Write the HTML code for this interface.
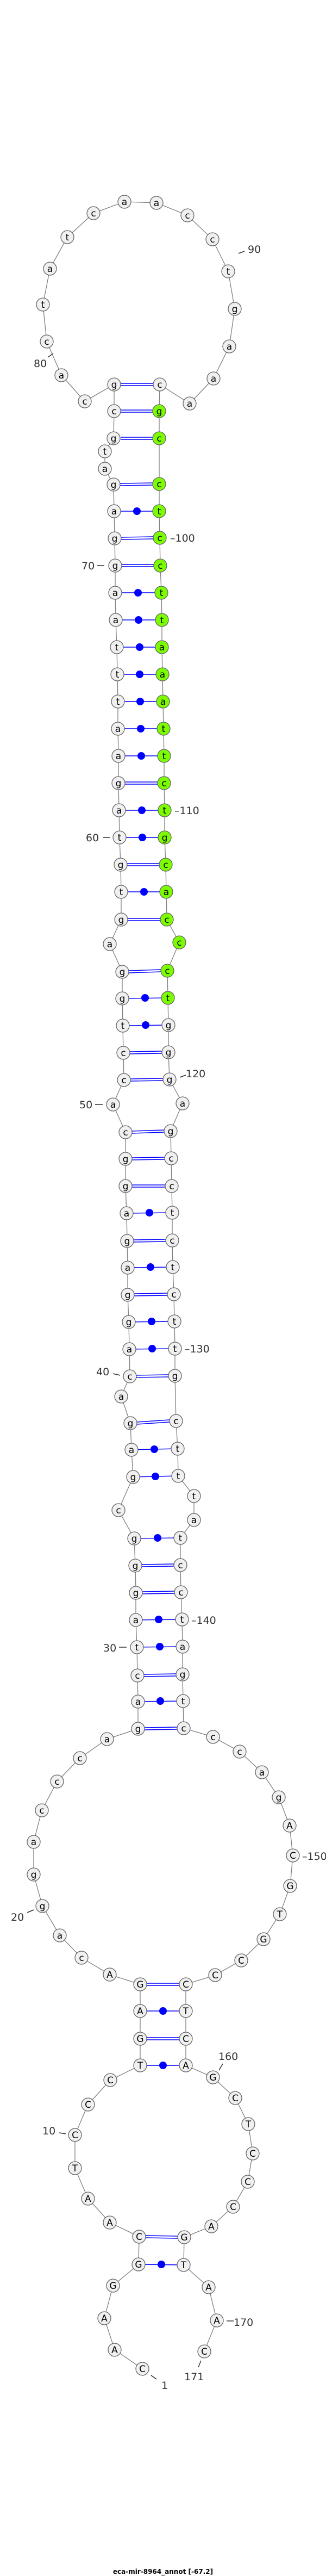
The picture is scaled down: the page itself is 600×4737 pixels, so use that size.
<!DOCTYPE html>
<html><head><meta charset="utf-8"><style>
html,body{margin:0;padding:0;background:#fff;}
svg{display:block;}
.n circle{fill:#f0f0f0;stroke:#666;stroke-width:1.3;}
.n.g circle{fill:#7cfc00;}
.n text{font-family:"DejaVu Sans","Liberation Sans",sans-serif;font-size:17px;text-anchor:middle;fill:#000;}
.lb{font-family:"DejaVu Sans","Liberation Sans",sans-serif;font-size:19px;fill:#333;}
.tk{stroke:#333;stroke-width:1.5;}
.b{stroke:#0000ff;stroke-width:1.4;}
.d{fill:#0000ff;}
</style></head><body>
<svg width="600" height="4737" viewBox="0 0 600 4737" xmlns="http://www.w3.org/2000/svg">
<polyline fill="none" stroke="#808080" stroke-width="1.3" points="262,4356 211,4321 192,4263 208,4203 255,4164 256,4113 202,4087 162,4043 138,3987 138,3926 162,3870 203,3825 258,3798 258,3749 258,3698 258,3649 202,3631 150,3600 110,3559 78,3505 62,3447 62,3387 77,3329 105,3276 147,3233 197,3198 254,3179 254,3129 253,3081 252,3029 250,2979 250,2929 249,2879 247,2829 218,2777 245,2716 242,2666 240,2617 223,2568 239,2531 238,2481 237,2431 235,2381 235,2331 234,2282 233,2231 231,2181 231,2131 231,2082 208,2031 228,1986 227,1936 226,1886 225,1836 225,1787 202,1736 223,1691 223,1640 222,1590 220,1540 219,1490 218,1440 218,1390 217,1340 217,1290 216,1240 215,1190 213,1140 212,1090 212,1040 211,990 210,940 209,891 193,862 193,830 209,806 210,756 210,707 156,738 113,690 86,628 79,560 92,494 124,436 172,392 229,371 288,373 345,396 391,440 420,499 432,568 422,637 393,696 349,742 294,707 293,756 293,806 293,890 293,940 294,989 295,1040 297,1090 298,1140 298,1190 299,1240 300,1290 301,1340 302,1390 302,1440 303,1490 303,1540 305,1590 306,1640 307,1691 330,1733 308,1785 309,1835 310,1885 310,1935 312,1985 336,2029 314,2080 315,2130 316,2181 317,2230 317,2281 318,2330 320,2380 321,2430 322,2480 322,2530 324,2613 327,2664 328,2714 357,2751 357,2795 332,2828 332,2878 333,2928 335,2978 336,3028 336,3079 337,3128 338,3178 392,3194 441,3221 482,3259 513,3305 533,3357 539,3412 534,3468 515,3520 485,3566 444,3605 396,3632 342,3649 342,3698 342,3749 342,3798 392,3820 433,3858 457,3906 465,3960 456,4012 429,4058 389,4094 339,4114 338,4165 384,4206 399,4267 376,4324"/>
<!-- double bonds -->
<g class="b">
<line x1="268" y1="4111" x2="327" y2="4112"/><line x1="268" y1="4115" x2="327" y2="4116"/>
<line x1="270" y1="3747" x2="330" y2="3747"/><line x1="270" y1="3751" x2="330" y2="3751"/>
<line x1="270" y1="3647" x2="330" y2="3647"/><line x1="270" y1="3651" x2="330" y2="3651"/>
<line x1="266" y1="3177" x2="326" y2="3176"/><line x1="266" y1="3181" x2="326" y2="3180"/>
<line x1="265" y1="3079" x2="324" y2="3078"/><line x1="265" y1="3083" x2="324" y2="3082"/>
<line x1="262" y1="2927" x2="321" y2="2926"/><line x1="262" y1="2931" x2="321" y2="2930"/>
<line x1="261" y1="2877" x2="320" y2="2876"/><line x1="261" y1="2881" x2="320" y2="2880"/>
<line x1="252" y1="2615" x2="312" y2="2611"/><line x1="252" y1="2619" x2="312" y2="2615"/>
<line x1="251" y1="2529" x2="310" y2="2528"/><line x1="251" y1="2533" x2="310" y2="2532"/>
<line x1="247" y1="2379" x2="308" y2="2378"/><line x1="247" y1="2383" x2="308" y2="2382"/>
<line x1="246" y1="2280" x2="305" y2="2279"/><line x1="246" y1="2284" x2="305" y2="2283"/>
<line x1="243" y1="2179" x2="304" y2="2179"/><line x1="243" y1="2183" x2="304" y2="2183"/>
<line x1="243" y1="2129" x2="303" y2="2128"/><line x1="243" y1="2133" x2="303" y2="2132"/>
<line x1="243" y1="2080" x2="302" y2="2078"/><line x1="243" y1="2084" x2="302" y2="2082"/>
<line x1="240" y1="1984" x2="300" y2="1983"/><line x1="240" y1="1988" x2="300" y2="1987"/>
<line x1="239" y1="1934" x2="298" y2="1933"/><line x1="239" y1="1938" x2="298" y2="1937"/>
<line x1="237" y1="1785" x2="296" y2="1783"/><line x1="237" y1="1789" x2="296" y2="1787"/>
<line x1="235" y1="1689" x2="295" y2="1689"/><line x1="235" y1="1693" x2="295" y2="1693"/>
<line x1="234" y1="1588" x2="293" y2="1588"/><line x1="234" y1="1592" x2="293" y2="1592"/>
<line x1="230" y1="1438" x2="290" y2="1438"/><line x1="230" y1="1442" x2="290" y2="1442"/>
<line x1="224" y1="1038" x2="283" y2="1038"/><line x1="224" y1="1042" x2="283" y2="1042"/>
<line x1="223" y1="988" x2="282" y2="987"/><line x1="223" y1="992" x2="282" y2="991"/>
<line x1="221" y1="889" x2="281" y2="888"/><line x1="221" y1="893" x2="281" y2="892"/>
<line x1="222" y1="804" x2="281" y2="804"/><line x1="222" y1="808" x2="281" y2="808"/>
<line x1="222" y1="754" x2="281" y2="754"/><line x1="222" y1="758" x2="281" y2="758"/>
<line x1="222" y1="705" x2="282" y2="705"/><line x1="222" y1="709" x2="282" y2="709"/>
</g>
<!-- single bonds with dots -->
<g class="b">
<line x1="255" y1="4164" x2="338" y2="4165"/>
<line x1="258" y1="3798" x2="342" y2="3798"/>
<line x1="258" y1="3698" x2="342" y2="3698"/>
<line x1="254" y1="3129" x2="337" y2="3128"/>
<line x1="252" y1="3029" x2="336" y2="3028"/>
<line x1="250" y1="2979" x2="335" y2="2978"/>
<line x1="247" y1="2829" x2="332" y2="2828"/>
<line x1="245" y1="2716" x2="328" y2="2714"/>
<line x1="242" y1="2666" x2="327" y2="2664"/>
<line x1="238" y1="2481" x2="322" y2="2480"/>
<line x1="237" y1="2431" x2="321" y2="2430"/>
<line x1="235" y1="2331" x2="318" y2="2330"/>
<line x1="233" y1="2231" x2="317" y2="2230"/>
<line x1="226" y1="1886" x2="310" y2="1885"/>
<line x1="225" y1="1836" x2="309" y2="1835"/>
<line x1="223" y1="1640" x2="306" y2="1640"/>
<line x1="220" y1="1540" x2="303" y2="1540"/>
<line x1="219" y1="1490" x2="303" y2="1490"/>
<line x1="218" y1="1390" x2="302" y2="1390"/>
<line x1="217" y1="1340" x2="301" y2="1340"/>
<line x1="217" y1="1290" x2="300" y2="1290"/>
<line x1="216" y1="1240" x2="299" y2="1240"/>
<line x1="215" y1="1190" x2="298" y2="1190"/>
<line x1="213" y1="1140" x2="298" y2="1140"/>
<line x1="212" y1="1090" x2="297" y2="1090"/>
<line x1="210" y1="940" x2="293" y2="940"/>
</g>
<g class="d">
<circle cx="297" cy="4164" r="7"/><circle cx="300" cy="3798" r="7"/><circle cx="300" cy="3698" r="7"/>
<circle cx="295" cy="3128" r="7"/><circle cx="294" cy="3028" r="7"/><circle cx="292" cy="2978" r="7"/>
<circle cx="290" cy="2828" r="7"/><circle cx="286" cy="2715" r="7"/><circle cx="284" cy="2665" r="7"/>
<circle cx="280" cy="2480" r="7"/><circle cx="279" cy="2430" r="7"/><circle cx="277" cy="2330" r="7"/>
<circle cx="275" cy="2230" r="7"/><circle cx="268" cy="1885" r="7"/><circle cx="267" cy="1835" r="7"/>
<circle cx="265" cy="1640" r="7"/><circle cx="262" cy="1540" r="7"/><circle cx="261" cy="1490" r="7"/>
<circle cx="260" cy="1390" r="7"/><circle cx="259" cy="1340" r="7"/><circle cx="258" cy="1290" r="7"/>
<circle cx="257" cy="1240" r="7"/><circle cx="257" cy="1190" r="7"/><circle cx="255" cy="1140" r="7"/>
<circle cx="254" cy="1090" r="7"/><circle cx="252" cy="940" r="7"/>
</g>
<!-- nodes -->
<g class="n"><circle cx="262" cy="4356" r="12"/><text x="262" y="4362">C</text></g>
<g class="n"><circle cx="211" cy="4321" r="12"/><text x="211" y="4327">A</text></g>
<g class="n"><circle cx="192" cy="4263" r="12"/><text x="192" y="4269">A</text></g>
<g class="n"><circle cx="208" cy="4203" r="12"/><text x="208" y="4209">G</text></g>
<g class="n"><circle cx="255" cy="4164" r="12"/><text x="255" y="4170">G</text></g>
<g class="n"><circle cx="256" cy="4113" r="12"/><text x="256" y="4119">C</text></g>
<g class="n"><circle cx="202" cy="4087" r="12"/><text x="202" y="4093">A</text></g>
<g class="n"><circle cx="162" cy="4043" r="12"/><text x="162" y="4049">A</text></g>
<g class="n"><circle cx="138" cy="3987" r="12"/><text x="138" y="3993">T</text></g>
<g class="n"><circle cx="138" cy="3926" r="12"/><text x="138" y="3932">C</text></g>
<g class="n"><circle cx="162" cy="3870" r="12"/><text x="162" y="3876">C</text></g>
<g class="n"><circle cx="203" cy="3825" r="12"/><text x="203" y="3831">C</text></g>
<g class="n"><circle cx="258" cy="3798" r="12"/><text x="258" y="3804">T</text></g>
<g class="n"><circle cx="258" cy="3749" r="12"/><text x="258" y="3755">G</text></g>
<g class="n"><circle cx="258" cy="3698" r="12"/><text x="258" y="3704">A</text></g>
<g class="n"><circle cx="258" cy="3649" r="12"/><text x="258" y="3655">G</text></g>
<g class="n"><circle cx="202" cy="3631" r="12"/><text x="202" y="3637">A</text></g>
<g class="n"><circle cx="150" cy="3600" r="12"/><text x="150" y="3606">c</text></g>
<g class="n"><circle cx="110" cy="3559" r="12"/><text x="110" y="3565">a</text></g>
<g class="n"><circle cx="78" cy="3505" r="12"/><text x="78" y="3511">g</text></g>
<g class="n"><circle cx="62" cy="3447" r="12"/><text x="62" y="3453">g</text></g>
<g class="n"><circle cx="62" cy="3387" r="12"/><text x="62" y="3393">a</text></g>
<g class="n"><circle cx="77" cy="3329" r="12"/><text x="77" y="3335">c</text></g>
<g class="n"><circle cx="105" cy="3276" r="12"/><text x="105" y="3282">c</text></g>
<g class="n"><circle cx="147" cy="3233" r="12"/><text x="147" y="3239">c</text></g>
<g class="n"><circle cx="197" cy="3198" r="12"/><text x="197" y="3204">a</text></g>
<g class="n"><circle cx="254" cy="3179" r="12"/><text x="254" y="3185">g</text></g>
<g class="n"><circle cx="254" cy="3129" r="12"/><text x="254" y="3135">a</text></g>
<g class="n"><circle cx="253" cy="3081" r="12"/><text x="253" y="3087">c</text></g>
<g class="n"><circle cx="252" cy="3029" r="12"/><text x="252" y="3035">t</text></g>
<g class="n"><circle cx="250" cy="2979" r="12"/><text x="250" y="2985">a</text></g>
<g class="n"><circle cx="250" cy="2929" r="12"/><text x="250" y="2935">g</text></g>
<g class="n"><circle cx="249" cy="2879" r="12"/><text x="249" y="2885">g</text></g>
<g class="n"><circle cx="247" cy="2829" r="12"/><text x="247" y="2835">g</text></g>
<g class="n"><circle cx="218" cy="2777" r="12"/><text x="218" y="2783">c</text></g>
<g class="n"><circle cx="245" cy="2716" r="12"/><text x="245" y="2722">g</text></g>
<g class="n"><circle cx="242" cy="2666" r="12"/><text x="242" y="2672">a</text></g>
<g class="n"><circle cx="240" cy="2617" r="12"/><text x="240" y="2623">g</text></g>
<g class="n"><circle cx="223" cy="2568" r="12"/><text x="223" y="2574">a</text></g>
<g class="n"><circle cx="239" cy="2531" r="12"/><text x="239" y="2537">c</text></g>
<g class="n"><circle cx="238" cy="2481" r="12"/><text x="238" y="2487">a</text></g>
<g class="n"><circle cx="237" cy="2431" r="12"/><text x="237" y="2437">g</text></g>
<g class="n"><circle cx="235" cy="2381" r="12"/><text x="235" y="2387">g</text></g>
<g class="n"><circle cx="235" cy="2331" r="12"/><text x="235" y="2337">a</text></g>
<g class="n"><circle cx="234" cy="2282" r="12"/><text x="234" y="2288">g</text></g>
<g class="n"><circle cx="233" cy="2231" r="12"/><text x="233" y="2237">a</text></g>
<g class="n"><circle cx="231" cy="2181" r="12"/><text x="231" y="2187">g</text></g>
<g class="n"><circle cx="231" cy="2131" r="12"/><text x="231" y="2137">g</text></g>
<g class="n"><circle cx="231" cy="2082" r="12"/><text x="231" y="2088">c</text></g>
<g class="n"><circle cx="208" cy="2031" r="12"/><text x="208" y="2037">a</text></g>
<g class="n"><circle cx="228" cy="1986" r="12"/><text x="228" y="1992">c</text></g>
<g class="n"><circle cx="227" cy="1936" r="12"/><text x="227" y="1942">c</text></g>
<g class="n"><circle cx="226" cy="1886" r="12"/><text x="226" y="1892">t</text></g>
<g class="n"><circle cx="225" cy="1836" r="12"/><text x="225" y="1842">g</text></g>
<g class="n"><circle cx="225" cy="1787" r="12"/><text x="225" y="1793">g</text></g>
<g class="n"><circle cx="202" cy="1736" r="12"/><text x="202" y="1742">a</text></g>
<g class="n"><circle cx="223" cy="1691" r="12"/><text x="223" y="1697">g</text></g>
<g class="n"><circle cx="223" cy="1640" r="12"/><text x="223" y="1646">t</text></g>
<g class="n"><circle cx="222" cy="1590" r="12"/><text x="222" y="1596">g</text></g>
<g class="n"><circle cx="220" cy="1540" r="12"/><text x="220" y="1546">t</text></g>
<g class="n"><circle cx="219" cy="1490" r="12"/><text x="219" y="1496">a</text></g>
<g class="n"><circle cx="218" cy="1440" r="12"/><text x="218" y="1446">g</text></g>
<g class="n"><circle cx="218" cy="1390" r="12"/><text x="218" y="1396">a</text></g>
<g class="n"><circle cx="217" cy="1340" r="12"/><text x="217" y="1346">a</text></g>
<g class="n"><circle cx="217" cy="1290" r="12"/><text x="217" y="1296">t</text></g>
<g class="n"><circle cx="216" cy="1240" r="12"/><text x="216" y="1246">t</text></g>
<g class="n"><circle cx="215" cy="1190" r="12"/><text x="215" y="1196">t</text></g>
<g class="n"><circle cx="213" cy="1140" r="12"/><text x="213" y="1146">a</text></g>
<g class="n"><circle cx="212" cy="1090" r="12"/><text x="212" y="1096">a</text></g>
<g class="n"><circle cx="212" cy="1040" r="12"/><text x="212" y="1046">g</text></g>
<g class="n"><circle cx="211" cy="990" r="12"/><text x="211" y="996">g</text></g>
<g class="n"><circle cx="210" cy="940" r="12"/><text x="210" y="946">a</text></g>
<g class="n"><circle cx="209" cy="891" r="12"/><text x="209" y="897">g</text></g>
<g class="n"><circle cx="193" cy="862" r="12"/><text x="193" y="868">a</text></g>
<g class="n"><circle cx="193" cy="830" r="12"/><text x="193" y="836">t</text></g>
<g class="n"><circle cx="209" cy="806" r="12"/><text x="209" y="812">g</text></g>
<g class="n"><circle cx="210" cy="756" r="12"/><text x="210" y="762">c</text></g>
<g class="n"><circle cx="210" cy="707" r="12"/><text x="210" y="713">g</text></g>
<g class="n"><circle cx="156" cy="738" r="12"/><text x="156" y="744">c</text></g>
<g class="n"><circle cx="113" cy="690" r="12"/><text x="113" y="696">a</text></g>
<g class="n"><circle cx="86" cy="628" r="12"/><text x="86" y="634">c</text></g>
<g class="n"><circle cx="79" cy="560" r="12"/><text x="79" y="566">t</text></g>
<g class="n"><circle cx="92" cy="494" r="12"/><text x="92" y="500">a</text></g>
<g class="n"><circle cx="124" cy="436" r="12"/><text x="124" y="442">t</text></g>
<g class="n"><circle cx="172" cy="392" r="12"/><text x="172" y="398">c</text></g>
<g class="n"><circle cx="229" cy="371" r="12"/><text x="229" y="377">a</text></g>
<g class="n"><circle cx="288" cy="373" r="12"/><text x="288" y="379">a</text></g>
<g class="n"><circle cx="345" cy="396" r="12"/><text x="345" y="402">c</text></g>
<g class="n"><circle cx="391" cy="440" r="12"/><text x="391" y="446">c</text></g>
<g class="n"><circle cx="420" cy="499" r="12"/><text x="420" y="505">t</text></g>
<g class="n"><circle cx="432" cy="568" r="12"/><text x="432" y="574">g</text></g>
<g class="n"><circle cx="422" cy="637" r="12"/><text x="422" y="643">a</text></g>
<g class="n"><circle cx="393" cy="696" r="12"/><text x="393" y="702">a</text></g>
<g class="n"><circle cx="349" cy="742" r="12"/><text x="349" y="748">a</text></g>
<g class="n"><circle cx="294" cy="707" r="12"/><text x="294" y="713">c</text></g>
<g class="n g"><circle cx="293" cy="756" r="12"/><text x="293" y="762">g</text></g>
<g class="n g"><circle cx="293" cy="806" r="12"/><text x="293" y="812">c</text></g>
<g class="n g"><circle cx="293" cy="890" r="12"/><text x="293" y="896">c</text></g>
<g class="n g"><circle cx="293" cy="940" r="12"/><text x="293" y="946">t</text></g>
<g class="n g"><circle cx="294" cy="989" r="12"/><text x="294" y="995">c</text></g>
<g class="n g"><circle cx="295" cy="1040" r="12"/><text x="295" y="1046">c</text></g>
<g class="n g"><circle cx="297" cy="1090" r="12"/><text x="297" y="1096">t</text></g>
<g class="n g"><circle cx="298" cy="1140" r="12"/><text x="298" y="1146">t</text></g>
<g class="n g"><circle cx="298" cy="1190" r="12"/><text x="298" y="1196">a</text></g>
<g class="n g"><circle cx="299" cy="1240" r="12"/><text x="299" y="1246">a</text></g>
<g class="n g"><circle cx="300" cy="1290" r="12"/><text x="300" y="1296">a</text></g>
<g class="n g"><circle cx="301" cy="1340" r="12"/><text x="301" y="1346">t</text></g>
<g class="n g"><circle cx="302" cy="1390" r="12"/><text x="302" y="1396">t</text></g>
<g class="n g"><circle cx="302" cy="1440" r="12"/><text x="302" y="1446">c</text></g>
<g class="n g"><circle cx="303" cy="1490" r="12"/><text x="303" y="1496">t</text></g>
<g class="n g"><circle cx="303" cy="1540" r="12"/><text x="303" y="1546">g</text></g>
<g class="n g"><circle cx="305" cy="1590" r="12"/><text x="305" y="1596">c</text></g>
<g class="n g"><circle cx="306" cy="1640" r="12"/><text x="306" y="1646">a</text></g>
<g class="n g"><circle cx="307" cy="1691" r="12"/><text x="307" y="1697">c</text></g>
<g class="n g"><circle cx="330" cy="1733" r="12"/><text x="330" y="1739">c</text></g>
<g class="n g"><circle cx="308" cy="1785" r="12"/><text x="308" y="1791">c</text></g>
<g class="n g"><circle cx="309" cy="1835" r="12"/><text x="309" y="1841">t</text></g>
<g class="n"><circle cx="310" cy="1885" r="12"/><text x="310" y="1891">g</text></g>
<g class="n"><circle cx="310" cy="1935" r="12"/><text x="310" y="1941">g</text></g>
<g class="n"><circle cx="312" cy="1985" r="12"/><text x="312" y="1991">g</text></g>
<g class="n"><circle cx="336" cy="2029" r="12"/><text x="336" y="2035">a</text></g>
<g class="n"><circle cx="314" cy="2080" r="12"/><text x="314" y="2086">g</text></g>
<g class="n"><circle cx="315" cy="2130" r="12"/><text x="315" y="2136">c</text></g>
<g class="n"><circle cx="316" cy="2181" r="12"/><text x="316" y="2187">c</text></g>
<g class="n"><circle cx="317" cy="2230" r="12"/><text x="317" y="2236">t</text></g>
<g class="n"><circle cx="317" cy="2281" r="12"/><text x="317" y="2287">c</text></g>
<g class="n"><circle cx="318" cy="2330" r="12"/><text x="318" y="2336">t</text></g>
<g class="n"><circle cx="320" cy="2380" r="12"/><text x="320" y="2386">c</text></g>
<g class="n"><circle cx="321" cy="2430" r="12"/><text x="321" y="2436">t</text></g>
<g class="n"><circle cx="322" cy="2480" r="12"/><text x="322" y="2486">t</text></g>
<g class="n"><circle cx="322" cy="2530" r="12"/><text x="322" y="2536">g</text></g>
<g class="n"><circle cx="324" cy="2613" r="12"/><text x="324" y="2619">c</text></g>
<g class="n"><circle cx="327" cy="2664" r="12"/><text x="327" y="2670">t</text></g>
<g class="n"><circle cx="328" cy="2714" r="12"/><text x="328" y="2720">t</text></g>
<g class="n"><circle cx="357" cy="2751" r="12"/><text x="357" y="2757">t</text></g>
<g class="n"><circle cx="357" cy="2795" r="12"/><text x="357" y="2801">a</text></g>
<g class="n"><circle cx="332" cy="2828" r="12"/><text x="332" y="2834">t</text></g>
<g class="n"><circle cx="332" cy="2878" r="12"/><text x="332" y="2884">c</text></g>
<g class="n"><circle cx="333" cy="2928" r="12"/><text x="333" y="2934">c</text></g>
<g class="n"><circle cx="335" cy="2978" r="12"/><text x="335" y="2984">t</text></g>
<g class="n"><circle cx="336" cy="3028" r="12"/><text x="336" y="3034">a</text></g>
<g class="n"><circle cx="336" cy="3079" r="12"/><text x="336" y="3085">g</text></g>
<g class="n"><circle cx="337" cy="3128" r="12"/><text x="337" y="3134">t</text></g>
<g class="n"><circle cx="338" cy="3178" r="12"/><text x="338" y="3184">c</text></g>
<g class="n"><circle cx="392" cy="3194" r="12"/><text x="392" y="3200">c</text></g>
<g class="n"><circle cx="441" cy="3221" r="12"/><text x="441" y="3227">c</text></g>
<g class="n"><circle cx="482" cy="3259" r="12"/><text x="482" y="3265">a</text></g>
<g class="n"><circle cx="513" cy="3305" r="12"/><text x="513" y="3311">g</text></g>
<g class="n"><circle cx="533" cy="3357" r="12"/><text x="533" y="3363">A</text></g>
<g class="n"><circle cx="539" cy="3412" r="12"/><text x="539" y="3418">C</text></g>
<g class="n"><circle cx="534" cy="3468" r="12"/><text x="534" y="3474">G</text></g>
<g class="n"><circle cx="515" cy="3520" r="12"/><text x="515" y="3526">T</text></g>
<g class="n"><circle cx="485" cy="3566" r="12"/><text x="485" y="3572">G</text></g>
<g class="n"><circle cx="444" cy="3605" r="12"/><text x="444" y="3611">C</text></g>
<g class="n"><circle cx="396" cy="3632" r="12"/><text x="396" y="3638">C</text></g>
<g class="n"><circle cx="342" cy="3649" r="12"/><text x="342" y="3655">C</text></g>
<g class="n"><circle cx="342" cy="3698" r="12"/><text x="342" y="3704">T</text></g>
<g class="n"><circle cx="342" cy="3749" r="12"/><text x="342" y="3755">C</text></g>
<g class="n"><circle cx="342" cy="3798" r="12"/><text x="342" y="3804">A</text></g>
<g class="n"><circle cx="392" cy="3820" r="12"/><text x="392" y="3826">G</text></g>
<g class="n"><circle cx="433" cy="3858" r="12"/><text x="433" y="3864">C</text></g>
<g class="n"><circle cx="457" cy="3906" r="12"/><text x="457" y="3912">T</text></g>
<g class="n"><circle cx="465" cy="3960" r="12"/><text x="465" y="3966">C</text></g>
<g class="n"><circle cx="456" cy="4012" r="12"/><text x="456" y="4018">C</text></g>
<g class="n"><circle cx="429" cy="4058" r="12"/><text x="429" y="4064">C</text></g>
<g class="n"><circle cx="389" cy="4094" r="12"/><text x="389" y="4100">A</text></g>
<g class="n"><circle cx="339" cy="4114" r="12"/><text x="339" y="4120">G</text></g>
<g class="n"><circle cx="338" cy="4165" r="12"/><text x="338" y="4171">T</text></g>
<g class="n"><circle cx="384" cy="4206" r="12"/><text x="384" y="4212">A</text></g>
<g class="n"><circle cx="399" cy="4267" r="12"/><text x="399" y="4273">A</text></g>
<g class="n"><circle cx="376" cy="4324" r="12"/><text x="376" y="4330">C</text></g>
<!-- numeric labels -->
<line class="tk" x1="439" y1="466" x2="450" y2="462"/><text class="lb" x="456" y="465">90</text>
<line class="tk" x1="88" y1="657" x2="98" y2="650"/><text class="lb" x="62" y="675">80</text>
<text class="lb" x="313" y="996">–100</text>
<text class="lb" x="150" y="1047">70</text><line class="tk" x1="179" y1="1040" x2="192" y2="1040"/>
<text class="lb" x="321" y="1497">–110</text>
<text class="lb" x="158" y="1547">60</text><line class="tk" x1="190" y1="1540" x2="202" y2="1540"/>
<line class="tk" x1="331" y1="1981" x2="342" y2="1977"/><text class="lb" x="342" y="1981">120</text>
<text class="lb" x="146" y="2038">50</text><line class="tk" x1="175" y1="2031" x2="189" y2="2031"/>
<text class="lb" x="340" y="2487">–130</text>
<text class="lb" x="177" y="2529">40</text><line class="tk" x1="208" y1="2526" x2="221" y2="2529"/>
<text class="lb" x="352" y="2986">–140</text>
<text class="lb" x="190" y="3037">30</text><line class="tk" x1="219" y1="3029" x2="233" y2="3029"/>
<text class="lb" x="556" y="3420">–150</text>
<text class="lb" x="20" y="3532">20</text><line class="tk" x1="50" y1="3517" x2="62" y2="3512"/>
<text class="lb" x="78" y="3925">10</text><line class="tk" x1="109" y1="3922" x2="121" y2="3924"/>
<text class="lb" x="402" y="3788">160</text><line class="tk" x1="403" y1="3807" x2="410" y2="3795"/>
<line class="tk" x1="417" y1="4268" x2="430" y2="4268"/><text class="lb" x="430" y="4277">170</text>
<line class="tk" x1="370" y1="4341" x2="365" y2="4353"/><text class="lb" x="339" y="4377">171</text>
<line class="tk" x1="278" y1="4368" x2="288" y2="4375"/><text class="lb" x="297" y="4393">1</text>
<text x="300" y="4733" text-anchor="middle" font-family="'DejaVu Sans','Liberation Sans',sans-serif" font-size="12" font-weight="bold" fill="#000">eca-mir-8964_annot [-67.2]</text>
</svg>
</body></html>
